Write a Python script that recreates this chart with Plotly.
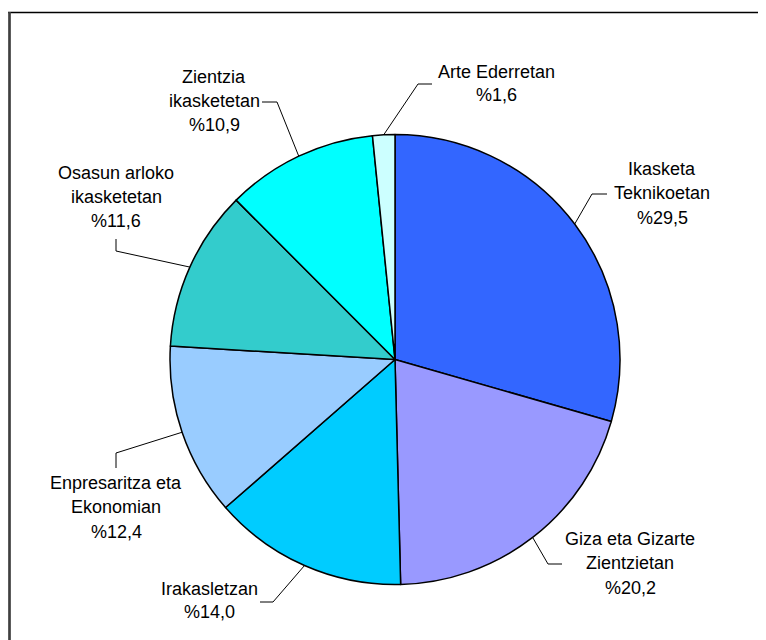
import math
import plotly.graph_objects as go

# ---- data ----
categories = ["Ikasketa Teknikoetan", "Giza eta Gizarte Zientzietan", "Irakasletzan",
              "Enpresaritza eta Ekonomian", "Osasun arloko ikasketetan",
              "Zientzia ikasketetan", "Arte Ederretan"]
label_lines = [["Ikasketa", "Teknikoetan"], ["Giza eta Gizarte", "Zientzietan"],
               ["Irakasletzan"], ["Enpresaritza eta", "Ekonomian"],
               ["Osasun arloko", "ikasketetan"], ["Zientzia", "ikasketetan"],
               ["Arte Ederretan"]]
values = [29.5, 20.2, 14.0, 12.4, 11.6, 10.9, 1.6]
colors = ["#3366FF", "#9999FF", "#00CCFF", "#99CCFF", "#33CCCC", "#00FFFF", "#CCFFFF"]

# ---- layout (page pixels) ----
OFF = 8  # page body margin
PAGE_W, PAGE_H = 766, 640
W, H = PAGE_W - OFF, PAGE_H - OFF
CX, CY, R = 395, 359.5, 225
# per label: elbow point, end point, text centre x, text line ys
label_layout = [
    dict(elbow=(592, 194), end=(607, 194), tx=662, ys=[169, 193, 218]),
    dict(elbow=(548, 564), end=(562, 564), tx=630, ys=[539, 563, 588]),
    dict(elbow=(273, 602), end=(260, 602), tx=209, ys=[589, 612]),
    dict(elbow=(116, 453), end=(116, 468), tx=116, ys=[483, 507, 532]),
    dict(elbow=(116, 251), end=(116, 239), tx=116, ys=[173, 197, 221]),
    dict(elbow=(277, 102), end=(262, 102), tx=214, ys=[77, 101, 125]),
    dict(elbow=(418, 84), end=(432, 84), tx=496, ys=[72, 95]),
]

def px(x):
    return (x - OFF) / W

def py(y):
    return 1 - (y - OFF) / H

fig = go.Figure(go.Pie(
    labels=categories, values=values, sort=False, direction="clockwise", rotation=0,
    marker=dict(colors=colors, line=dict(color="black", width=1.5)),
    textinfo="none", hoverinfo="label+percent", showlegend=False,
    domain=dict(x=[px(CX - R), px(CX + R)], y=[py(CY + R), py(CY - R)]),
))

shapes = []
annotations = []
total = sum(values)
cum = 0.0
FONT = dict(family="Liberation Sans, Arial, sans-serif", size=18, color="#000000")
for i, v in enumerate(values):
    mid = (cum + v / 2) / total * 2 * math.pi
    cum += v
    sx = CX + R * math.sin(mid)
    sy = CY - R * math.cos(mid)
    lay = label_layout[i]
    ex, ey = lay["elbow"]
    nx, ny = lay["end"]
    path = f"M {px(sx)},{py(sy)} L {px(ex)},{py(ey)} L {px(nx)},{py(ny)}"
    shapes.append(dict(type="path", xref="paper", yref="paper", path=path,
                       line=dict(color="black", width=1)))
    pct = "%" + f"{v:.1f}".replace(".", ",")
    lines = label_lines[i] + [pct]
    for txt, yy in zip(lines, lay["ys"]):
        annotations.append(dict(text=txt, x=px(lay["tx"]), y=py(yy), xref="paper", yref="paper",
                                xanchor="center", yanchor="middle", showarrow=False, font=FONT))

# frame (top and left edges)
shapes.append(dict(type="line", xref="paper", yref="paper", x0=px(8), x1=px(766),
                   y0=py(12.5), y1=py(12.5), line=dict(color="black", width=1.5)))
shapes.append(dict(type="line", xref="paper", yref="paper", x0=px(9.5), x1=px(9.5),
                   y0=py(12), y1=py(640), line=dict(color="#404040", width=2.7)))

fig.update_layout(width=W, height=H, autosize=False, margin=dict(l=0, r=0, t=0, b=0),
                  paper_bgcolor="white", plot_bgcolor="white",
                  shapes=shapes, annotations=annotations)
fig.write_html("out.html")
